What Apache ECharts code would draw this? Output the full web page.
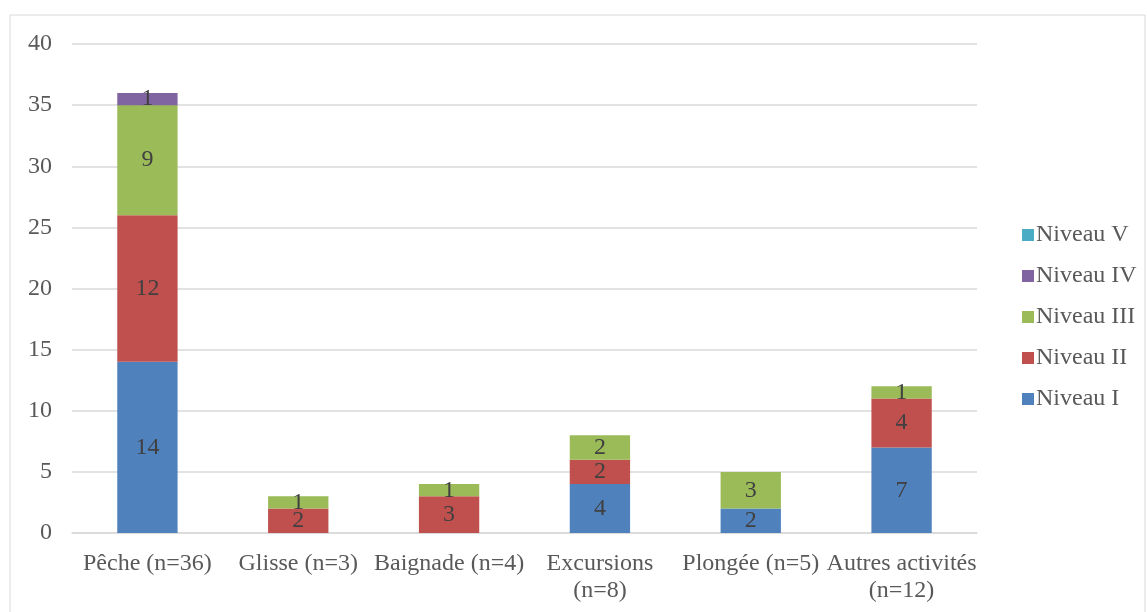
<!DOCTYPE html>
<html><head><meta charset="utf-8">
<script src="https://cdn.jsdelivr.net/npm/echarts@6/dist/echarts.min.js"></script>
<style>html,body{margin:0;padding:0;background:#fff}#c{width:1147px;height:612px}</style>
</head><body><div id="c"></div>
<script>
const categories = ['Pêche (n=36)', 'Glisse (n=3)', 'Baignade (n=4)', 'Excursions\n(n=8)', 'Plongée (n=5)', 'Autres activités\n(n=12)'];
const niveauI = [14, 0, 0, 4, 2, 7];
const niveauII = [12, 2, 3, 2, 0, 4];
const niveauIII = [9, 1, 1, 2, 3, 1];
const niveauIV = [1, 0, 0, 0, 0, 0];
const niveauV = [0, 0, 0, 0, 0, 0];
const seriesNames = ['Niveau I', 'Niveau II', 'Niveau III', 'Niveau IV', 'Niveau V'];
const seriesData = [niveauI, niveauII, niveauIII, niveauIV, niveauV];
const colors = ['#4F81BD', '#C0504D', '#9BBB59', '#8064A2', '#4BACC6'];
const font = '"Liberation Serif","DejaVu Serif",serif';
const fs = 24;

const chart = echarts.init(document.getElementById('c'));
chart.setOption({
  animation: false,
  textStyle: { fontFamily: font },
  graphic: [{ type: 'rect', shape: { x: 10, y: 15, width: 1135, height: 610 }, style: { fill: 'none', stroke: '#d9d9d9', lineWidth: 1 } }],
  grid: { left: 72, right: 170, top: 44, bottom: 79 },
  legend: {
    orient: 'vertical', left: 1017, top: 218,
    data: ['Niveau V', 'Niveau IV', 'Niveau III', 'Niveau II', 'Niveau I'],
    itemWidth: 12, itemHeight: 12, itemGap: 17, icon: 'rect',
    textStyle: { fontFamily: font, fontSize: fs, color: '#595959', padding: [0, 0, 0, -3] }
  },
  xAxis: {
    type: 'category', data: categories,
    axisLine: { lineStyle: { color: '#d9d9d9', width: 1.5 } },
    axisTick: { show: false },
    axisLabel: { interval: 0, color: '#595959', fontSize: fs, fontFamily: font, margin: 17, lineHeight: 27 }
  },
  yAxis: {
    type: 'value', min: 0, max: 40, interval: 5,
    axisLine: { show: false }, axisTick: { show: false },
    splitLine: { lineStyle: { color: '#d9d9d9', width: 1.5 } },
    axisLabel: { color: '#595959', fontSize: fs, fontFamily: font, margin: 20 }
  },
  series: seriesNames.map((n, i) => ({
    name: n, type: 'bar', stack: 'total', barWidth: '40%',
    data: seriesData[i].map(v => v === 0 ? null : v),
    itemStyle: { color: colors[i] },
    label: { show: true, position: 'inside', color: '#404040', fontSize: fs, fontFamily: font }
  }))
});
</script></body></html>
